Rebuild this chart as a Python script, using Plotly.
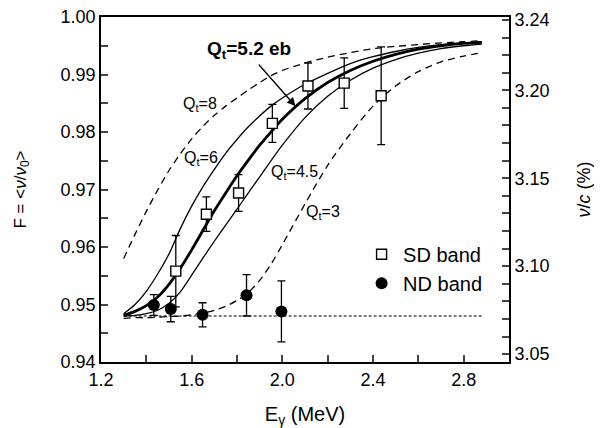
import plotly.graph_objects as go

# ---------------- data ----------------
E_sd = [1.530, 1.665, 1.807, 1.956, 2.113, 2.273, 2.436]
F_sd = [0.9558, 0.9657, 0.9694, 0.9815, 0.9880, 0.9885, 0.9863]
err_sd = [0.0062, 0.0030, 0.0032, 0.0033, 0.0040, 0.0044, 0.0085]

E_nd = [1.433, 1.508, 1.648, 1.842, 1.996]
F_nd = [0.9499, 0.9492, 0.9482, 0.9516, 0.9488]
err_nd = [0.0018, 0.0022, 0.0021, 0.0036, 0.0053]

E_curve = [1.30, 1.35, 1.40, 1.45, 1.50, 1.55, 1.60, 1.65, 1.70, 1.75, 1.80, 1.85,
           1.90, 1.95, 2.00, 2.10, 2.20, 2.30, 2.40, 2.50, 2.60, 2.70, 2.80, 2.88]
F_q8 = [0.9580, 0.9622, 0.9662, 0.9699, 0.9733, 0.9762, 0.9788, 0.9810, 0.9829, 0.9845, 0.9859, 0.9873,
        0.9886, 0.9898, 0.9907, 0.9920, 0.9930, 0.9938, 0.9945, 0.9949, 0.9952, 0.9955, 0.9957, 0.9959]
F_q6 = [0.9484, 0.9500, 0.9523, 0.9553, 0.9588, 0.9632, 0.9671, 0.9705, 0.9735, 0.9763, 0.9787, 0.9809,
        0.9828, 0.9845, 0.9859, 0.9883, 0.9902, 0.9919, 0.9931, 0.9940, 0.9947, 0.9952, 0.9955, 0.9957]
F_q52 = [0.9481, 0.9488, 0.9498, 0.9513, 0.9535, 0.9563, 0.9595, 0.9629, 0.9663, 0.9694, 0.9724, 0.9751,
         0.9777, 0.9800, 0.9822, 0.9858, 0.9886, 0.9907, 0.9923, 0.9935, 0.9944, 0.9950, 0.9954, 0.9956]
F_q45 = [0.9480, 0.9481, 0.9484, 0.9490, 0.9502, 0.9522, 0.9551, 0.9581, 0.9610, 0.9638, 0.9666, 0.9694,
         0.9722, 0.9750, 0.9777, 0.9825, 0.9862, 0.9890, 0.9911, 0.9926, 0.9937, 0.9945, 0.9950, 0.9953]
F_q3 = [0.9476, 0.9477, 0.9477, 0.9478, 0.9479, 0.9480, 0.9482, 0.9485, 0.9490, 0.9497, 0.9507, 0.9521,
        0.9542, 0.9570, 0.9604, 0.9675, 0.9742, 0.9797, 0.9845, 0.9880, 0.9905, 0.9922, 0.9932, 0.9938]

E_base = [1.30, 2.88]
F_base = [0.948, 0.948]

x_ticks = [1.2, 1.6, 2.0, 2.4, 2.8]
y_ticks = [0.94, 0.95, 0.96, 0.97, 0.98, 0.99, 1.00]
y2_ticks = [3.05, 3.10, 3.15, 3.20, 3.24]

# ---------------- figure ----------------
FONT = "Liberation Sans, Arial, sans-serif"
fig = go.Figure()

def curve(y, width, dash):
    fig.add_trace(go.Scatter(x=E_curve, y=y, mode="lines", showlegend=False,
                             line=dict(color="black", width=width, dash=dash,
                                       shape="spline", smoothing=0.8),
                             hoverinfo="skip"))

curve(F_q8, 1.3, "7px,5px")
curve(F_q6, 1.3, "solid")
curve(F_q52, 2.8, "solid")
curve(F_q45, 1.3, "solid")
curve(F_q3, 1.3, "7px,5px")

fig.add_trace(go.Scatter(x=E_base, y=F_base, mode="lines", showlegend=False,
                         line=dict(color="black", width=1.2, dash="3px,2px")))

fig.add_trace(go.Scatter(x=E_sd, y=F_sd, mode="markers", name="SD band",
                         marker=dict(symbol="square", size=10, color="white",
                                     line=dict(color="black", width=1.4)),
                         error_y=dict(type="data", array=err_sd, color="black",
                                      thickness=1.3, width=4)))
fig.add_trace(go.Scatter(x=E_nd, y=F_nd, mode="markers", name="ND band",
                         marker=dict(symbol="circle", size=12, color="black"),
                         error_y=dict(type="data", array=err_nd, color="black",
                                      thickness=1.3, width=4)))

# invisible trace to activate right axis
fig.add_trace(go.Scatter(x=[None], y=[None], yaxis="y2", showlegend=False))

ann_font = dict(family=FONT, size=16, color="black")
labels = [
    (1.635, 0.9848, "Q<sub>t</sub>=8"),
    (1.640, 0.9754, "Q<sub>t</sub>=6"),
    (2.055, 0.9730, "Q<sub>t</sub>=4.5"),
    (2.180, 0.9660, "Q<sub>t</sub>=3"),
]
for x, y, t in labels:
    fig.add_annotation(x=x, y=y, text=t, showarrow=False, font=ann_font,
                       xref="x", yref="y")

fig.add_annotation(x=1.851, y=0.99425, text="<b>Q<sub>t</sub>=5.2 eb</b>", showarrow=False,
                   font=dict(family=FONT, size=19, color="black"), xref="x", yref="y")
fig.add_annotation(x=2.058, y=0.9845, ax=1.890, ay=0.9920, axref="x", ayref="y",
                   xref="x", yref="y", text="", showarrow=True, arrowhead=2,
                   arrowsize=1.3, arrowwidth=1.3, arrowcolor="black")

# page body has an 8px margin: figure is sized/offset to land where the reference's plot sits
fig.update_layout(
    width=594, height=420,
    margin=dict(l=93, r=93, t=9, b=66, autoexpand=False),
    paper_bgcolor="white", plot_bgcolor="white",
    font=dict(family=FONT, size=18, color="black"),
    legend=dict(x=0.635, y=0.369, xanchor="left", yanchor="top",
                bgcolor="rgba(0,0,0,0)", font=dict(family=FONT, size=20, color="black"),
                itemwidth=33, tracegroupgap=0),
    xaxis=dict(range=[1.2, 3.0], tickvals=x_ticks, ticktext=[f"{v:.1f}" for v in x_ticks],
               ticks="inside", ticklen=7, tickwidth=1.5, showline=True, linecolor="black",
               linewidth=1.8, mirror=True, showgrid=False, zeroline=False, automargin=False,
               ticklabeloverflow="allow",
               minor=dict(dtick=0.2, tick0=1.2, ticks="inside", ticklen=7, tickwidth=1.5),
               title=dict(text="E<sub>γ</sub> (MeV)", font=dict(size=20, color="black"),
                          standoff=19)),
    yaxis=dict(range=[0.94, 1.00], tickvals=y_ticks, ticktext=[f"{v:.2f}" for v in y_ticks],
               ticks="inside", ticklen=7, tickwidth=1.5, showline=True, linecolor="black",
               linewidth=1.8, showgrid=False, zeroline=False, automargin=False,
               ticklabeloverflow="allow",
               minor=dict(dtick=0.005, tick0=0.94, ticks="inside", ticklen=7, tickwidth=1.5),
               title=dict(text="F = &lt;<i>ν</i>/<i>ν</i><sub>0</sub>&gt;",
                          font=dict(size=17, color="black"), standoff=30)),
    yaxis2=dict(range=[3.0455, 3.2417], overlaying="y", side="right", anchor="x",
                tickvals=y2_ticks, ticktext=[f"{v:.2f}" for v in y2_ticks],
                ticks="inside", ticklen=7, tickwidth=1.5, showline=True, linecolor="black",
                linewidth=1.8, showgrid=False, zeroline=False, automargin=False,
                ticklabeloverflow="allow",
                minor=dict(dtick=0.01, tick0=3.0, ticks="inside", ticklen=7, tickwidth=1.5),
                title=dict(text="<i>ν</i>/<i>c</i> (%)", font=dict(size=18, color="black"),
                           standoff=29)),
)

fig.write_html("out.html")
